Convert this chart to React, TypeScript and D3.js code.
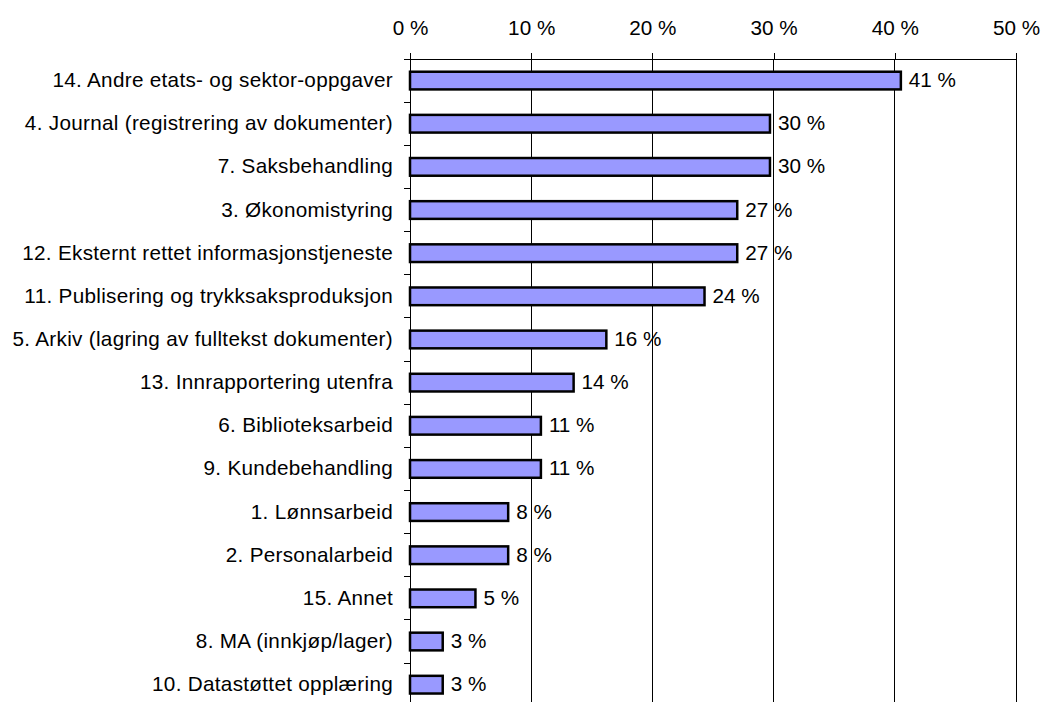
import { useEffect, useRef } from 'react';
import * as d3 from 'd3';

// categories, top to bottom
const categories: string[] = [
  '14. Andre etats- og sektor-oppgaver',
  '4. Journal (registrering av dokumenter)',
  '7. Saksbehandling',
  '3. Økonomistyring',
  '12. Eksternt rettet informasjonstjeneste',
  '11. Publisering og trykksaksproduksjon',
  '5. Arkiv (lagring av fulltekst dokumenter)',
  '13. Innrapportering utenfra',
  '6. Biblioteksarbeid',
  '9. Kundebehandling',
  '1. Lønnsarbeid',
  '2. Personalarbeid',
  '15. Annet',
  '8. MA (innkjøp/lager)',
  '10. Datastøttet opplæring',
];

// share in percent
const values: number[] = [40.5, 29.7, 29.7, 27.0, 27.0, 24.3, 16.2, 13.5, 10.8, 10.8, 8.1, 8.1, 5.4, 2.7, 2.7];

const xTicks: number[] = [0, 10, 20, 30, 40, 50];

export default function App() {
  const ref = useRef<SVGSVGElement>(null);

  useEffect(() => {
    const svg = d3.select(ref.current);
    svg.selectAll('*').remove();

    const left = 410;
    const right = 1016;
    const top = 59;
    const band = 43.15;
    const bottom = top + band * categories.length;

    const x = d3.scaleLinear().domain([0, 50]).range([left, right]);
    const y = d3.scaleBand<string>()
      .domain(categories)
      .range([top, bottom])
      .paddingInner(0.59)
      .paddingOuter(0.295);

    const font = 'Liberation Sans, Arial, sans-serif';
    const fontSize = 20.7;

    // grid lines
    svg.append('g')
      .selectAll('line')
      .data(xTicks.slice(1))
      .join('line')
      .attr('x1', d => x(d))
      .attr('x2', d => x(d))
      .attr('y1', top)
      .attr('y2', bottom)
      .attr('stroke', '#000')
      .attr('stroke-width', 1)
      .attr('shape-rendering', 'crispEdges');

    // top axis
    const xAxis = d3.axisTop(x)
      .tickValues(xTicks)
      .tickSize(6)
      .tickPadding(18)
      .tickFormat(d => `${d} %`);
    const gx = svg.append('g')
      .attr('transform', `translate(0,${top})`)
      .call(xAxis);
    gx.select('.domain').remove();
    gx.selectAll('line').attr('stroke', '#000').attr('shape-rendering', 'crispEdges');
    gx.selectAll('text')
      .attr('font-family', font)
      .attr('font-size', fontSize)
      .attr('fill', '#000');

    svg.append('line')
      .attr('x1', left - 6)
      .attr('x2', right)
      .attr('y1', top)
      .attr('y2', top)
      .attr('stroke', '#000')
      .attr('shape-rendering', 'crispEdges');

    // left axis with category boundary ticks
    svg.append('line')
      .attr('x1', left)
      .attr('x2', left)
      .attr('y1', top)
      .attr('y2', bottom)
      .attr('stroke', '#000')
      .attr('shape-rendering', 'crispEdges');

    svg.append('g')
      .selectAll('line')
      .data(categories)
      .join('line')
      .attr('x1', left - 6)
      .attr('x2', left)
      .attr('y1', (d, i) => top + band * (i + 1))
      .attr('y2', (d, i) => top + band * (i + 1))
      .attr('stroke', '#000')
      .attr('shape-rendering', 'crispEdges');

    svg.append('g')
      .selectAll('text')
      .data(categories)
      .join('text')
      .attr('x', left - 17)
      .attr('y', d => (y(d) as number) + y.bandwidth() / 2 + 6.5)
      .attr('text-anchor', 'end')
      .attr('font-family', font)
      .attr('font-size', fontSize)
      .attr('letter-spacing', 0.3)
      .text(d => d);

    // bars
    svg.append('g')
      .selectAll('rect')
      .data(values)
      .join('rect')
      .attr('x', x(0))
      .attr('y', (d, i) => y(categories[i]) as number)
      .attr('width', d => x(d) - x(0))
      .attr('height', y.bandwidth())
      .attr('fill', '#9999FF')
      .attr('stroke', '#000')
      .attr('stroke-width', 2.5);

    // value labels
    svg.append('g')
      .selectAll('text')
      .data(values)
      .join('text')
      .attr('x', d => x(d) + 8)
      .attr('y', (d, i) => (y(categories[i]) as number) + y.bandwidth() / 2 + 6.5)
      .attr('font-family', font)
      .attr('font-size', fontSize)
      .text(d => `${Math.round(d)} %`);
  }, []);

  return (
    <svg
      ref={ref}
      width={1042}
      height={702}
      style={{ position: 'absolute', left: 0, top: 0, background: '#fff' }}
    ></svg>
  );
}
